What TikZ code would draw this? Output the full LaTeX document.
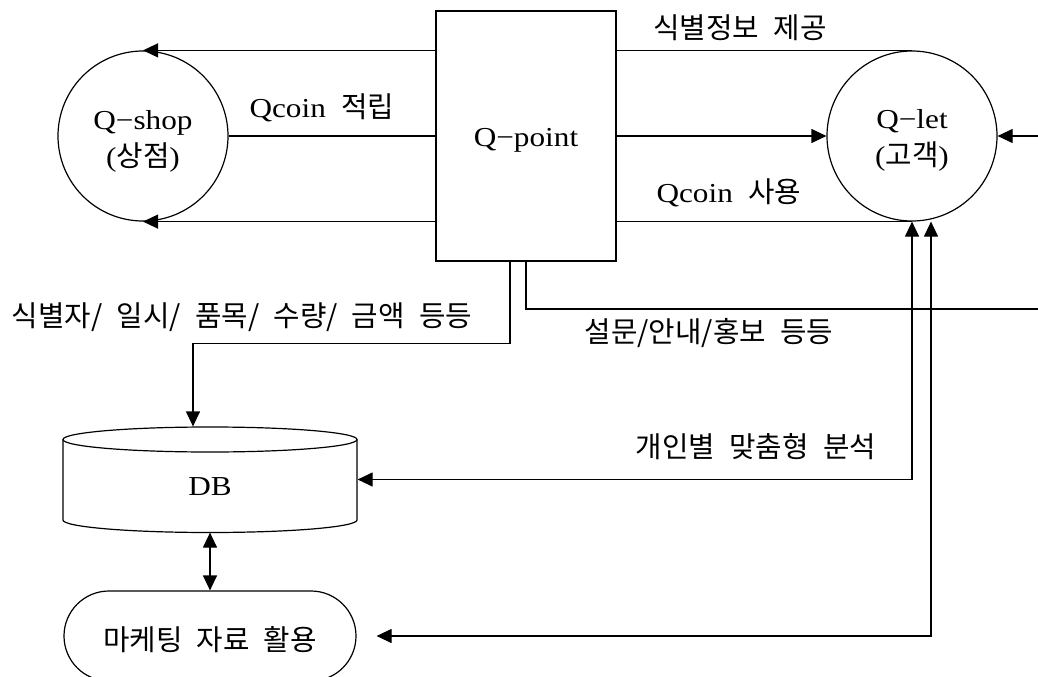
\documentclass[tikz,border=0pt]{standalone}
\usepackage{fontspec}
\setmainfont{Liberation Serif}[FakeStretch=1.14,WordSpace=2]
\newfontfamily\kr{Noto Sans CJK KR}[WordSpace=2.2,Scale=1.05]
\usetikzlibrary{arrows.meta,shapes.misc}
% move a line of text down without changing the box it reports
\newcommand{\dropby}[2]{\raisebox{-#1}[\height][\depth]{#2}}
\begin{document}
\begin{tikzpicture}[x=1bp,y=-1bp,
  line width=1.2bp,
  >={Triangle[length=15bp,width=14bp]},
  every node/.style={font=\fontsize{27.5}{37}\selectfont},
  proc/.style={draw,circle,minimum size=170bp,inner sep=0pt,align=center},
  hub/.style={draw,rectangle,minimum width=180bp,minimum height=250bp,inner sep=0pt},
  store/.style={minimum width=294bp,minimum height=105bp,inner sep=0pt},
  terminal/.style={draw,rounded rectangle,minimum width=292bp,minimum height=90bp,inner sep=0pt},
  lbl/.style={inner sep=0pt}
]
\useasboundingbox (0,0) rectangle (1038,677);
\clip (0,0) rectangle (1038,677);

% main actors
\node[proc] (qshop) at (143,136) {\dropby{5bp}{Q−shop}\\\dropby{5bp}{({\kr 상점})}};
\node[hub]  (qp)    at (526,136) {\dropby{4bp}{Q−point}};
\node[proc] (qlet)  at (912,136) {\dropby{4bp}{Q−let}\\\dropby{4bp}{({\kr 고객})}};

% database cylinder
\node[store] (db) at (210,479.5) {};
\draw (210,439.5) ellipse [x radius=147bp, y radius=12.5bp];
\draw (63,439.5) -- (63,520) arc[start angle=180,end angle=360,x radius=147bp,y radius=12.5bp] -- (357,439.5);
\node[lbl] (dbl) at (210,487) {DB};

% marketing terminal
\node[terminal] (mkt) at (210,636) {\dropby{4bp}{\kr 마케팅 자료 활용}};

% flows between Q-point and the two actors
\draw[->] (qp.west |- qshop.north) -- (qshop.north);
\draw (qshop.east) -- (qp.west);
\draw[->] (qp.west |- qshop.south) -- (qshop.south);
\draw (qp.east |- qlet.north) -- (qlet.north);
\draw[->] (qp.east) -- (qlet.west);
\draw (qp.east |- qlet.south) -- (qlet.south);

% incoming / outgoing at the right edge
\coordinate (rin) at (1038,136);
\draw[->] (rin) -- (qlet.east);
\coordinate (rout) at (1038,309);
\draw (qp.south) |- (rout);

% transaction data into the database
\draw[->] ([xshift=-16bp]qp.south) -- ++(0,82) -| ([xshift=-17bp]db.north);

% analysis and marketing loops
\draw[<->] (qlet.south) |- (db.east);
\draw[<->] ([xshift=19bp]qlet.south) |- ([xshift=20bp]mkt.east);
\draw[<->] (db.south) -- (mkt.north);

% flow labels
\node[lbl] (l1) at (322,108) {Qcoin {\kr 적립}};
\node[lbl] (l2) at (740,28)  {\kr 식별정보 제공};
\node[lbl] (l3) at (729,193) {Qcoin {\kr 사용}};
\node[lbl] (l4) at (242,317) {\kr 식별자/ 일시/ 품목/ 수량/ 금액 등등};
\node[lbl] (l5) at (709,333) {\kr 설문/안내/홍보 등등};
\node[lbl] (l6) at (756,447) {\kr 개인별 맞춤형 분석};
\end{tikzpicture}
\end{document}
